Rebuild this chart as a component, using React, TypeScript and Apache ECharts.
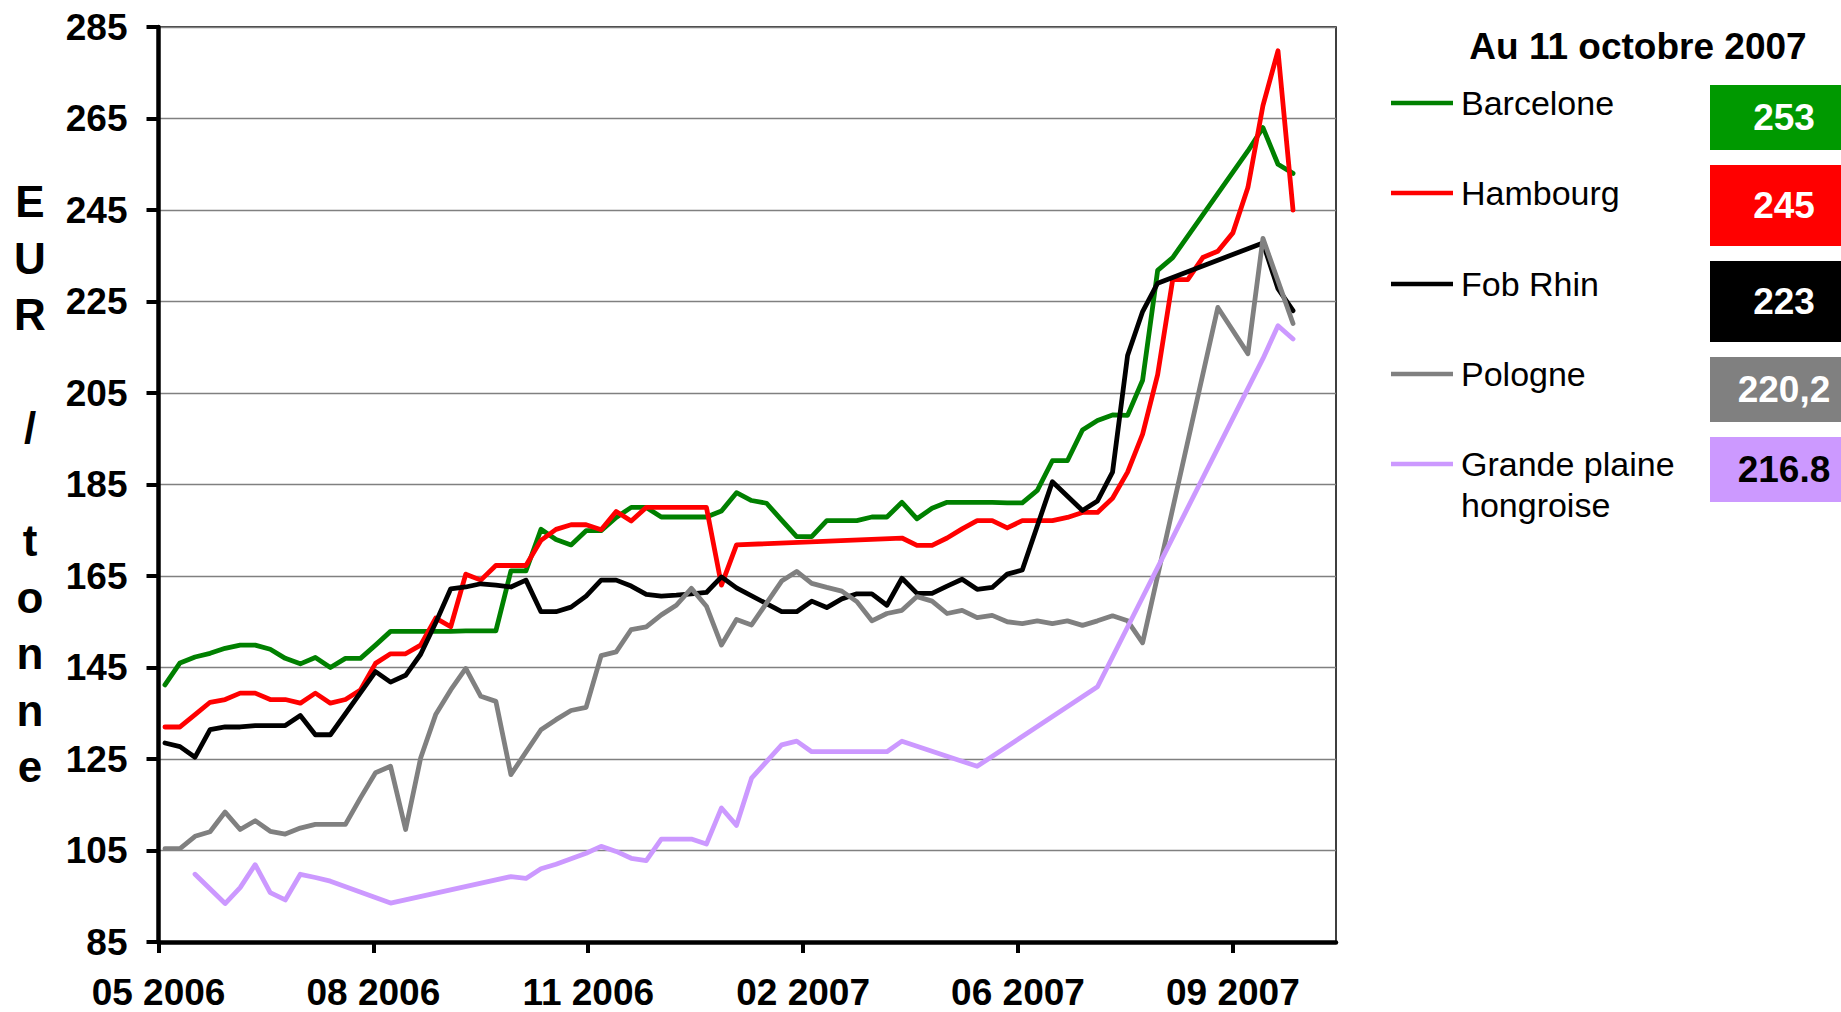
import { useEffect, useRef } from "react";
import * as echarts from "echarts";

// ---- Data (weekly quotes, EUR / tonne) ----
// One value per week, first quote 4 May 2006 (day 3 of the axis), last 11 Oct 2007.
const FIRST_POINT_DAY = 3;
const POINT_STEP_DAYS = 7;

const barcelone: (number | null)[] = [
  141.2, 146.0, 147.3, 148.1, 149.2, 149.9, 149.9, 149.0, 147.0, 145.8,
  147.2, 145.0, 147.0, 147.0, 149.9, 152.9, 152.9, 152.9, 152.9, 152.9,
  153.0, 153.0, 153.0, 166.1, 166.1, 175.2, 173.0, 171.8, 174.9, 174.9,
  177.8, 180.0, 180.0, 177.9, 177.9, 177.9, 177.9, 179.2, 183.2, 181.5,
  180.9, 177.2, 173.6, 173.6, 177.1, 177.1, 177.1, 177.9, 177.9, 181.1,
  177.5, 179.8, 181.1, 181.1, 181.1, 181.1, 181.0, 181.0, 183.7, 190.2,
  190.2, 196.9, 199.0, 200.2, 200.1, 207.8, 231.8, 234.6, null, null,
  null, null, 257.9, 263.0, 255.0, 253,
];

const hambourg: (number | null)[] = [
  132.0, 132.0, 134.7, 137.4, 138.0, 139.4, 139.4, 138.0, 138.0, 137.2,
  139.4, 137.2, 138.0, 140.1, 145.9, 148.0, 148.0, 149.9, 155.8, 153.9,
  165.4, 164.1, 167.3, 167.3, 167.3, 172.8, 175.2, 176.2, 176.2, 175.1,
  179.1, 177.0, 180.0, 180.0, 180.0, 180.0, 180.0, 163.0, 171.8, null,
  null, null, null, null, null, null, null, null, null, 173.3,
  171.7, 171.7, 173.3, 175.3, 177.1, 177.1, 175.5, 177.1, 177.1, 177.1,
  177.8, 178.9, 178.9, 182.0, 187.7, 196.0, 209.0, 229.8, 229.8, 234.6,
  236.0, 240.0, 249.9, 267.8, 279.8, 245,
];

const fobRhin: (number | null)[] = [
  128.5, 127.7, 125.4, 131.4, 132.0, 132.0, 132.3, 132.3, 132.3, 134.5,
  130.3, 130.3, null, null, 144.1, 141.8, 143.3, 147.9, 154.8, 162.2,
  162.6, 163.3, 163.0, 162.6, 164.1, 157.2, 157.2, 158.2, 160.6, 164.1,
  164.1, 162.8, 161.0, 160.6, 160.8, 161.1, 161.4, 164.8, 162.4, null,
  null, 157.2, 157.2, 159.5, 158.1, 160.0, 161.1, 161.1, 158.6, 164.5,
  161.2, 161.2, 162.8, 164.3, 162.1, 162.5, 165.4, 166.3, null, 185.6,
  null, 179.3, 181.4, 187.7, 213.2, 222.8, 229.0, null, null, null,
  null, null, null, 237.8, 227.8, 223,
];

const pologne: (number | null)[] = [
  105.4, 105.4, 108.1, 109.1, 113.4, 109.6, 111.5, 109.2, 108.6, 109.9,
  110.7, 110.7, 110.7, 116.5, 122.0, 123.4, 109.6, 125.2, 134.7, 140.1,
  144.8, 138.7, 137.6, 121.6, 126.5, 131.4, 133.6, 135.6, 136.3, 147.6,
  148.4, 153.3, 153.9, 156.5, 158.6, 162.3, 158.4, 149.9, 155.5, 154.3,
  null, 163.9, 166.0, 163.4, 162.5, 161.7, 159.4, 155.2, 156.8, 157.5,
  160.5, 159.5, 156.8, 157.5, 155.9, 156.4, 155.0, 154.6, 155.2, 154.6,
  155.2, 154.2, 155.2, 156.3, 155.2, 150.4, null, null, null, null,
  223.7, null, 213.6, 238.8, null, 220.2,
];

const grandePlaine: (number | null)[] = [
  null, null, 99.8, null, 93.4, 96.9, 101.9, 95.8, 94.2, 99.8,
  99.1, 98.3, null, null, null, 93.5, null, null, null, null,
  null, null, null, 99.3, 98.9, 101.0, 102.0, 103.2, 104.4, 105.9,
  104.8, 103.3, 102.8, 107.5, 107.5, 107.5, 106.4, 114.3, 110.5, 120.8,
  null, 128.1, 128.9, 126.6, 126.6, 126.6, 126.6, 126.6, 126.6, 128.9,
  null, null, null, null, 123.4, null, null, null, null, null,
  null, null, 140.8, null, null, null, null, null, null, null,
  null, null, null, 212.5, 219.7, 216.8,
];

const SERIES_NAMES = ["Barcelone", "Hambourg", "Fob Rhin", "Pologne", "Grande plaine\nhongroise"];
const SERIES_VALUES = [barcelone, hambourg, fobRhin, pologne, grandePlaine];
const LAST_VALUE_LABELS = ["253", "245", "223", "220,2", "216.8"];

// x axis: days since 1 May 2006, one labelled tick every 100 days
const X_TICK_LABELS = ["05 2006", "08 2006", "11 2006", "02 2007", "06 2007", "09 2007"];
const X_TICK_STEP = 100;
const X_MAX = 548;

// y axis
const Y_MIN = 85;
const Y_MAX = 285;
const Y_STEP = 20;

const TITLE = "Au 11 octobre 2007";
const Y_TITLE = "EUR / tonne";

// ---- Styles ----
const LINE_COLORS = ["#008000", "#FF0000", "#000000", "#808080", "#CC99FF"];
const BOX_COLORS = ["#009900", "#FF0000", "#000000", "#808080", "#CC99FF"];
const BOX_TEXT_COLORS = ["#FFFFFF", "#FFFFFF", "#FFFFFF", "#FFFFFF", "#000000"];
const FONT = "'Liberation Sans', Arial, Helvetica, sans-serif";

const LEGEND_Y = [103, 193, 284, 374, 464];
const BOX_TOP = [85, 165, 261, 357, 437];
const BOX_H = [65, 81, 81, 65, 65];

function toPoints(values: (number | null)[]) {
  const pts: [number, number][] = [];
  values.forEach((v, i) => {
    if (v !== null) pts.push([FIRST_POINT_DAY + POINT_STEP_DAYS * i, v]);
  });
  return pts;
}

export default function App() {
  const ref = useRef<HTMLDivElement>(null);

  useEffect(() => {
    document.body.style.margin = "0";
    if (!ref.current) return;
    const chart = echarts.init(ref.current, null, { renderer: "svg" });

    const tickValues: number[] = X_TICK_LABELS.map((_, k) => k * X_TICK_STEP);

    const graphics: any[] = [];
    // Title
    graphics.push({
      type: "text",
      style: {
        text: TITLE,
        x: 1638,
        y: 46,
        align: "center",
        verticalAlign: "middle",
        textAlign: "center",
        textVerticalAlign: "middle",
        font: `bold 37px ${FONT}`,
        fill: "#000",
      },
    });
    // Y axis title (stacked letters)
    graphics.push({
      type: "text",
      style: {
        text: Y_TITLE.split("").join("\n"),
        x: 30,
        y: 484,
        align: "center",
        verticalAlign: "middle",
        textAlign: "center",
        textVerticalAlign: "middle",
        font: `bold 44px ${FONT}`,
        lineHeight: 56.5,
        fill: "#000",
      },
    });
    SERIES_NAMES.forEach((name, k) => {
      const y = LEGEND_Y[k];
      const lines = name.split("\n").length;
      graphics.push({
        type: "line",
        shape: { x1: 1391, y1: y, x2: 1453, y2: y },
        style: { stroke: LINE_COLORS[k], lineWidth: 4.5 },
      });
      graphics.push({
        type: "text",
        style: {
          text: name,
          x: 1461,
          y: y + ((lines - 1) * 41) / 2,
          align: "left",
          verticalAlign: "middle",
          textAlign: "left",
          textVerticalAlign: "middle",
          font: `34px ${FONT}`,
          lineHeight: 41,
          fill: "#000",
        },
      });
      graphics.push({
        type: "rect",
        shape: { x: 1710, y: BOX_TOP[k], width: 131, height: BOX_H[k] },
        style: { fill: BOX_COLORS[k] },
      });
      graphics.push({
        type: "text",
        style: {
          text: LAST_VALUE_LABELS[k],
          x: 1784,
          y: BOX_TOP[k] + BOX_H[k] / 2,
          align: "center",
          verticalAlign: "middle",
          textAlign: "center",
          textVerticalAlign: "middle",
          font: `bold 37px ${FONT}`,
          fill: BOX_TEXT_COLORS[k],
        },
      });
    });

    chart.setOption({
      animation: false,
      backgroundColor: "#ffffff",
      grid: {
        left: 158.5,
        top: 27,
        width: 1177.5,
        height: 915,
        show: true,
        borderColor: "#000",
        borderWidth: 1.5,
        backgroundColor: "transparent",
      },
      xAxis: {
        type: "value",
        min: 0,
        max: X_MAX,
        interval: X_TICK_STEP,
        axisLine: { show: true, onZero: false, lineStyle: { color: "#000", width: 4.5 } },
        axisTick: {
          show: true,
          length: 11,
          customValues: tickValues,
          lineStyle: { color: "#000", width: 4 },
        },
        axisLabel: {
          show: true,
          customValues: tickValues,
          margin: 32,
          fontSize: 37,
          fontWeight: "bold",
          fontFamily: FONT,
          color: "#000",
          lineHeight: 37,
          formatter: (v: number) => X_TICK_LABELS[Math.round(v / X_TICK_STEP)] ?? "",
        },
        splitLine: { show: false },
      },
      yAxis: {
        type: "value",
        min: Y_MIN,
        max: Y_MAX,
        interval: Y_STEP,
        axisLine: { show: true, lineStyle: { color: "#000", width: 4.5 } },
        axisTick: { show: true, length: 12, lineStyle: { color: "#000", width: 4 } },
        axisLabel: {
          margin: 31,
          fontSize: 37,
          fontWeight: "bold",
          fontFamily: FONT,
          color: "#000",
        },
        splitLine: { show: true, lineStyle: { color: "#808080", width: 1.3 } },
      },
      series: SERIES_VALUES.map((vals, k) => ({
        name: SERIES_NAMES[k],
        type: "line",
        data: toPoints(vals),
        showSymbol: false,
        symbol: "none",
        silent: true,
        lineStyle: { color: LINE_COLORS[k], width: 4.8, cap: "round", join: "round" },
        itemStyle: { color: LINE_COLORS[k] },
      })),
      graphic: graphics,
    });

    return () => chart.dispose();
  }, []);

  return <div ref={ref} style={{ width: 1841, height: 1012 }} />;
}
